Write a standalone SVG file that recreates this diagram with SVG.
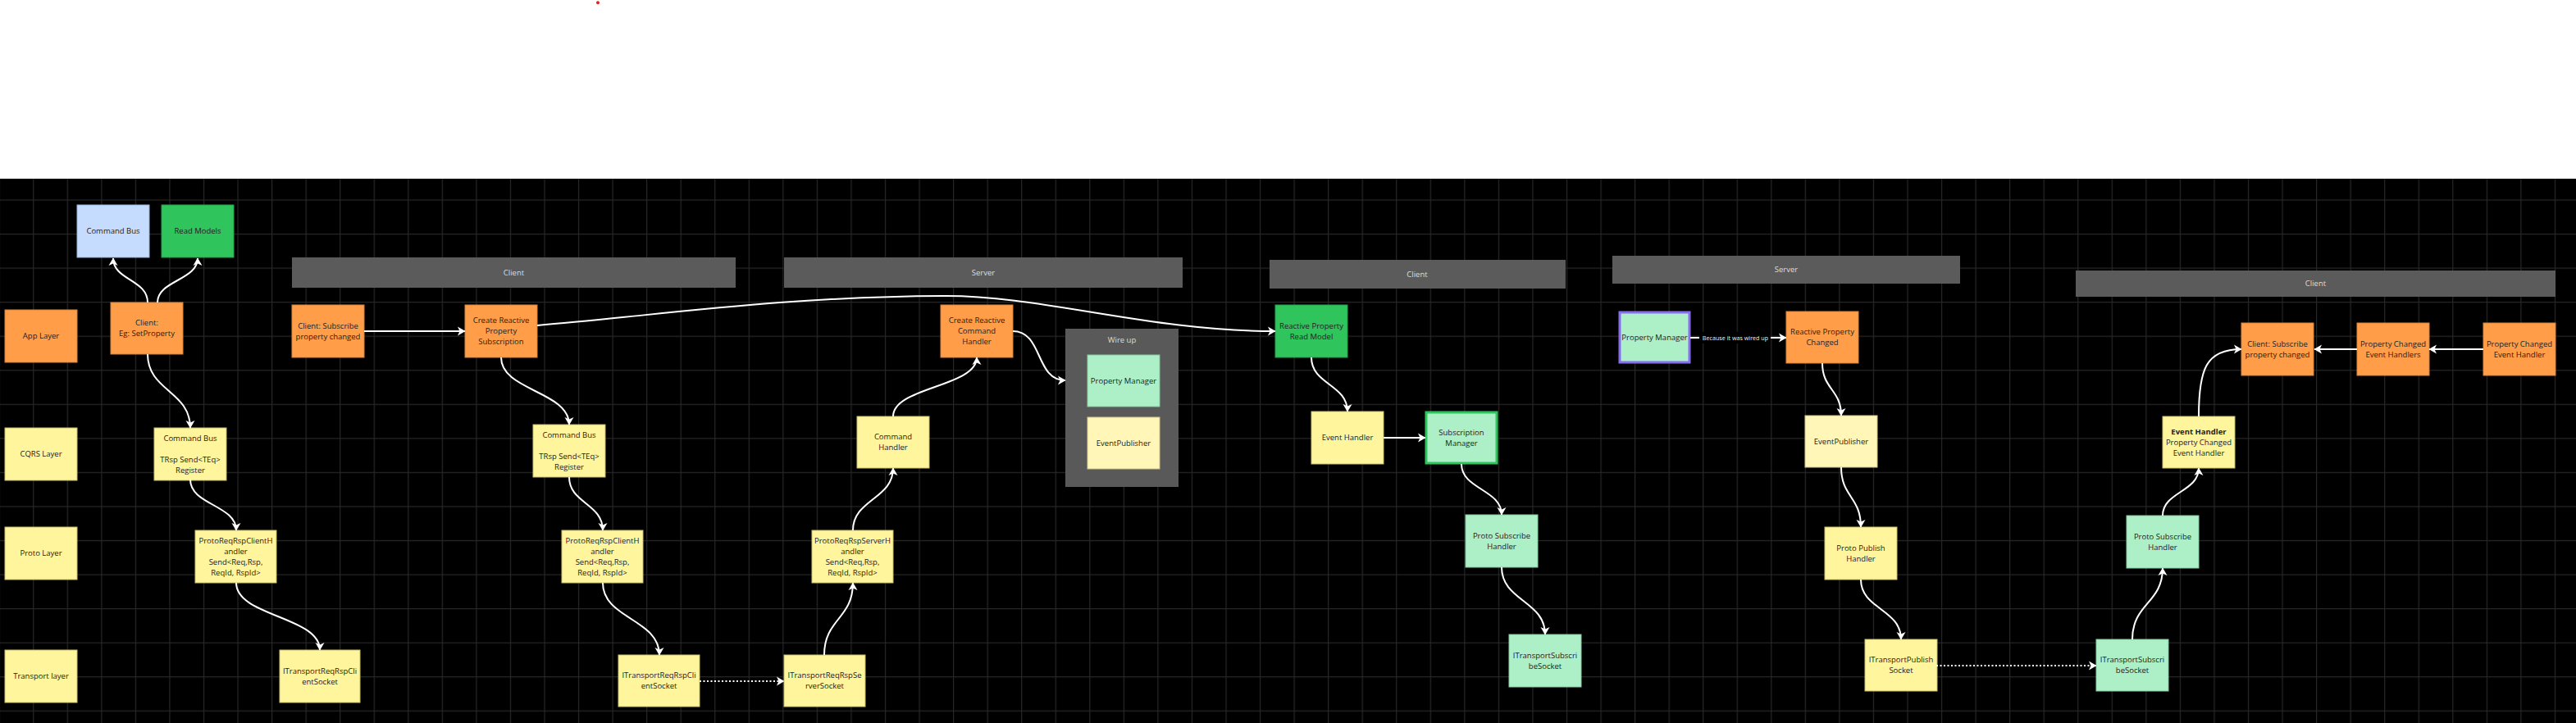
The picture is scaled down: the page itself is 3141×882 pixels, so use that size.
<svg xmlns="http://www.w3.org/2000/svg" width="3141" height="882" viewBox="0 0 3141 882">
<defs>
<pattern id="grid" patternUnits="userSpaceOnUse" x="-1.4" y="243.4" width="41.55" height="41.55">
<rect x="0" y="0" width="41.55" height="1.2" fill="#272727"/>
<rect x="0" y="0" width="1.2" height="41.55" fill="#272727"/>
</pattern>
<marker id="ah" markerUnits="userSpaceOnUse" markerWidth="12" markerHeight="13" refX="9" refY="6" orient="auto" overflow="visible">
<path d="M0,0.5 L9.5,6 L0,11.5 L2.5,6 Z" fill="#ffffff"/>
</marker>
<style>
.orange{fill:#ff9d48;stroke:#d8823a;stroke-width:1}
.yellow{fill:#fff59c;stroke:#c9bd6c;stroke-width:1}
.pale{fill:#fff6b8;stroke:#cfc58c;stroke-width:1}
.mint{fill:#adf0c7;stroke:#86c8a1;stroke-width:1}
.green{fill:#2fc45c;stroke:#24a04a;stroke-width:1}
.blue{fill:#c6dcff;stroke:#98b0d8;stroke-width:1}
.bar{fill:#5b5b5b}
.t{font-family:"Open Sans","Noto Sans",sans-serif;font-size:9.5px;fill:#222222;text-anchor:middle}
.tw{font-family:"Open Sans","Noto Sans",sans-serif;font-size:9.5px;fill:#dddddd;text-anchor:middle}
.b{font-weight:700}
.c{fill:none;stroke:#ffffff;stroke-width:2;marker-end:url(#ah)}
.d{stroke-dasharray:2 2.5}
</style>
</defs>
<rect x="0" y="0" width="3141" height="882" fill="#ffffff"/>
<circle cx="729" cy="3.3" r="2" fill="#e02424"/>
<rect x="0" y="218" width="3141" height="664" fill="#000000"/>
<rect x="0" y="218" width="3141" height="664" fill="url(#grid)"/>

<g id="bar-client-1"><rect class="bar" x="356" y="314" width="541" height="37"/><text class="tw" x="626.5" y="336.3">Client</text></g>
<g id="bar-server-1"><rect class="bar" x="956" y="314" width="486" height="37"/><text class="tw" x="1199" y="336.3">Server</text></g>
<g id="bar-client-2"><rect class="bar" x="1548" y="317" width="361" height="35"/><text class="tw" x="1728" y="337.8">Client</text></g>
<g id="bar-server-2"><rect class="bar" x="1966" y="312" width="424" height="34"/><text class="tw" x="2178" y="332.3">Server</text></g>
<g id="bar-client-3"><rect class="bar" x="2531" y="330" width="585" height="32"/><text class="tw" x="2823.5" y="349.3">Client</text></g>

<g id="n-cmdbus-blue"><rect class="blue" x="94" y="250" width="88" height="64"/><text class="t" x="138" y="285.4">Command Bus</text></g>
<g id="n-readmodels"><rect class="green" x="197" y="250" width="88" height="64"/><text class="t" x="241" y="285.4">Read Models</text></g>
<g id="n-applayer"><rect class="orange" x="6" y="378" width="88" height="64"/><text class="t" x="50" y="413.4">App Layer</text></g>
<g id="n-cqrslayer"><rect class="yellow" x="6" y="522" width="88" height="64"/><text class="t" x="50" y="557.4">CQRS Layer</text></g>
<g id="n-protolayer"><rect class="yellow" x="6" y="643" width="88" height="64"/><text class="t" x="50" y="678.4">Proto Layer</text></g>
<g id="n-transportlayer"><rect class="yellow" x="6" y="793" width="88" height="64"/><text class="t" x="50" y="828.4">Transport layer</text></g>

<g id="n-client-setprop"><rect class="orange" x="135" y="369" width="88" height="63"/><text class="t" x="179" y="397.4">Client:<tspan x="179" dy="13">Eg: SetProperty</tspan></text></g>
<g id="n-cmdbus-1"><rect class="yellow" x="188" y="522" width="88" height="64"/><text class="t" x="232" y="537.9">Command Bus<tspan x="232" dy="26">TRsp Send&lt;TEq&gt;</tspan><tspan x="232" dy="13">Register</tspan></text></g>
<g id="n-protoclient-1"><rect class="yellow" x="238" y="647" width="99" height="64"/><text class="t" x="287.5" y="662.9">ProtoReqRspClientH<tspan x="287.5" dy="13">andler</tspan><tspan x="287.5" dy="13">Send&lt;Req,Rsp,</tspan><tspan x="287.5" dy="13">ReqId, RspId&gt;</tspan></text></g>
<g id="n-transclient-1"><rect class="yellow" x="341" y="793" width="98" height="64"/><text class="t" x="390" y="821.9">ITransportReqRspCli<tspan x="390" dy="13">entSocket</tspan></text></g>

<g id="n-client-sub-1"><rect class="orange" x="356" y="372" width="88" height="64"/><text class="t" x="400" y="400.9">Client: Subscribe<tspan x="400" dy="13">property changed</tspan></text></g>
<g id="n-create-rps"><rect class="orange" x="567" y="372" width="88" height="64"/><text class="t" x="611" y="394.4">Create Reactive<tspan x="611" dy="13">Property</tspan><tspan x="611" dy="13">Subscription</tspan></text></g>
<g id="n-cmdbus-2"><rect class="yellow" x="650" y="518" width="88" height="64"/><text class="t" x="694" y="533.9">Command Bus<tspan x="694" dy="26">TRsp Send&lt;TEq&gt;</tspan><tspan x="694" dy="13">Register</tspan></text></g>
<g id="n-protoclient-2"><rect class="yellow" x="685" y="647" width="99" height="64"/><text class="t" x="734.5" y="662.9">ProtoReqRspClientH<tspan x="734.5" dy="13">andler</tspan><tspan x="734.5" dy="13">Send&lt;Req,Rsp,</tspan><tspan x="734.5" dy="13">ReqId, RspId&gt;</tspan></text></g>
<g id="n-transclient-2"><rect class="yellow" x="754" y="799" width="99" height="63"/><text class="t" x="803.5" y="827.4">ITransportReqRspCli<tspan x="803.5" dy="13">entSocket</tspan></text></g>

<g id="n-create-rch"><rect class="orange" x="1147" y="372" width="88" height="64"/><text class="t" x="1191" y="394.4">Create Reactive<tspan x="1191" dy="13">Command</tspan><tspan x="1191" dy="13">Handler</tspan></text></g>
<g id="n-wireup"><rect fill="#595959" x="1299" y="401" width="138" height="193"/><text class="tw" x="1368" y="417.8">Wire up</text>
<rect class="mint" x="1326" y="433" width="88" height="63"/><text class="t" x="1370" y="467.9">Property Manager</text>
<rect class="pale" x="1326" y="509" width="88" height="63"/><text class="t" x="1370" y="543.9">EventPublisher</text></g>
<g id="n-cmdhandler"><rect class="yellow" x="1045" y="508" width="88" height="63"/><text class="t" x="1089" y="536.4">Command<tspan x="1089" dy="13">Handler</tspan></text></g>
<g id="n-protoserver"><rect class="yellow" x="990" y="647" width="99" height="64"/><text class="t" x="1039.5" y="662.9">ProtoReqRspServerH<tspan x="1039.5" dy="13">andler</tspan><tspan x="1039.5" dy="13">Send&lt;Req,Rsp,</tspan><tspan x="1039.5" dy="13">ReqId, RspId&gt;</tspan></text></g>
<g id="n-transserver"><rect class="yellow" x="956" y="799" width="99" height="63"/><text class="t" x="1005.5" y="827.4">ITransportReqRspSe<tspan x="1005.5" dy="13">rverSocket</tspan></text></g>

<g id="n-rp-readmodel"><rect class="green" x="1555" y="372" width="88" height="64"/><text class="t" x="1599" y="400.9">Reactive Property<tspan x="1599" dy="13">Read Model</tspan></text></g>
<g id="n-eventhandler-1"><rect class="yellow" x="1599" y="502" width="88" height="64"/><text class="t" x="1643" y="537.4">Event Handler</text></g>
<g id="n-submgr"><rect fill="#adf0c7" stroke="#2fc45c" stroke-width="3" x="1739" y="503" width="86" height="62"/><text class="t" x="1782" y="530.9">Subscription<tspan x="1782" dy="13">Manager</tspan></text></g>
<g id="n-protosub-1"><rect class="mint" x="1787" y="628" width="88" height="64"/><text class="t" x="1831" y="656.9">Proto Subscribe<tspan x="1831" dy="13">Handler</tspan></text></g>
<g id="n-transsub-1"><rect class="mint" x="1840" y="774" width="88" height="64"/><text class="t" x="1884" y="802.9">ITransportSubscri<tspan x="1884" dy="13">beSocket</tspan></text></g>

<g id="n-propmgr"><rect fill="#adf0c7" stroke="#8a6cf0" stroke-width="3" x="1975" y="381" width="85" height="61"/><text class="t" x="2017.5" y="414.9">Property Manager</text></g>
<g id="n-rp-changed"><rect class="orange" x="2178" y="380" width="88" height="63"/><text class="t" x="2222" y="408.4">Reactive Property<tspan x="2222" dy="13">Changed</tspan></text></g>
<g id="n-eventpub"><rect class="pale" x="2201" y="507" width="88" height="63"/><text class="t" x="2245" y="541.9">EventPublisher</text></g>
<g id="n-protopub"><rect class="yellow" x="2225" y="643" width="88" height="64"/><text class="t" x="2269" y="671.9">Proto Publish<tspan x="2269" dy="13">Handler</tspan></text></g>
<g id="n-transpub"><rect class="yellow" x="2274" y="780" width="88" height="63"/><text class="t" x="2318" y="808.4">ITransportPublish<tspan x="2318" dy="13">Socket</tspan></text></g>
<g id="n-transsub-2"><rect class="mint" x="2556" y="780" width="88" height="63"/><text class="t" x="2600" y="808.4">ITransportSubscri<tspan x="2600" dy="13">beSocket</tspan></text></g>
<g id="n-protosub-2"><rect class="mint" x="2593" y="629" width="88" height="64"/><text class="t" x="2637" y="657.9">Proto Subscribe<tspan x="2637" dy="13">Handler</tspan></text></g>
<g id="n-eventhandler-2"><rect class="yellow" x="2637" y="508" width="88" height="63"/><text class="t" x="2681" y="529.9"><tspan class="b">Event Handler</tspan><tspan x="2681" dy="13">Property Changed</tspan><tspan x="2681" dy="13">Event Handler</tspan></text></g>
<g id="n-client-sub-2"><rect class="orange" x="2733" y="394" width="88" height="64"/><text class="t" x="2777" y="422.9">Client: Subscribe<tspan x="2777" dy="13">property changed</tspan></text></g>
<g id="n-pceh-s"><rect class="orange" x="2874" y="394" width="88" height="64"/><text class="t" x="2918" y="422.9">Property Changed<tspan x="2918" dy="13">Event Handlers</tspan></text></g>
<g id="n-pceh"><rect class="orange" x="3028" y="394" width="88" height="64"/><text class="t" x="3072" y="422.9">Property Changed<tspan x="3072" dy="13">Event Handler</tspan></text></g>

<g id="connectors">
<path class="c" d="M180,369 C180,341 138,342 138,315"/>
<path class="c" d="M192,369 C192,342 241,342 241,315"/>
<path class="c" d="M180,432 C180,477 232,477 232,522"/>
<path class="c" d="M232,585 C232,616 288,616 288,647"/>
<path class="c" d="M288,711 C288,752 390,752 390,793"/>
<path class="c" d="M444,404 L567,404"/>
<path class="c" d="M655,397 C800,385 950,362 1150,361 C1270,360 1400,404 1555,404"/>
<path class="c" d="M611,436 C611,477 694,477 694,518"/>
<path class="c" d="M694,582 C694,614 735,614 735,647"/>
<path class="c" d="M735,711 C735,755 804,755 804,799"/>
<path class="c d" d="M853,831 L956,831"/>
<path class="c" d="M1005,799 C1005,755 1040,755 1040,711"/>
<path class="c" d="M1040,647 C1040,609 1089,609 1089,571"/>
<path class="c" d="M1089,508 C1089,472 1191,472 1191,436"/>
<path class="c" d="M1235,404 C1272,404 1262,464 1299,464"/>
<path class="c" d="M1599,436 C1599,469 1643,469 1643,502"/>
<path class="c" d="M1687,534 L1738,534"/>
<path class="c" d="M1782,566 C1782,597 1831,597 1831,628"/>
<path class="c" d="M1831,692 C1831,733 1884,733 1884,774"/>
<path class="c" d="M2061,412 L2178,412"/>
<rect x="2072" y="405" width="87" height="14" fill="#000000"/>
<text x="2116" y="414.6" style="font-family:'Open Sans','Noto Sans',sans-serif;font-size:7.2px;fill:#eeeeee;text-anchor:middle">Because it was wired up</text>
<path class="c" d="M2222,443 C2222,475 2245,475 2245,507"/>
<path class="c" d="M2245,570 C2245,606 2269,606 2269,643"/>
<path class="c" d="M2269,707 C2269,743 2318,743 2318,780"/>
<path class="c d" d="M2361,812 L2556,812"/>
<path class="c" d="M2600,780 C2600,736 2637,736 2637,693"/>
<path class="c" d="M2637,629 C2637,600 2681,600 2681,571"/>
<path class="c" d="M2681,508 C2681,450 2690,426 2733,426"/>
<path class="c" d="M2874,426 L2822,426"/>
<path class="c" d="M3028,426 L2962,426"/>
</g>
</svg>
